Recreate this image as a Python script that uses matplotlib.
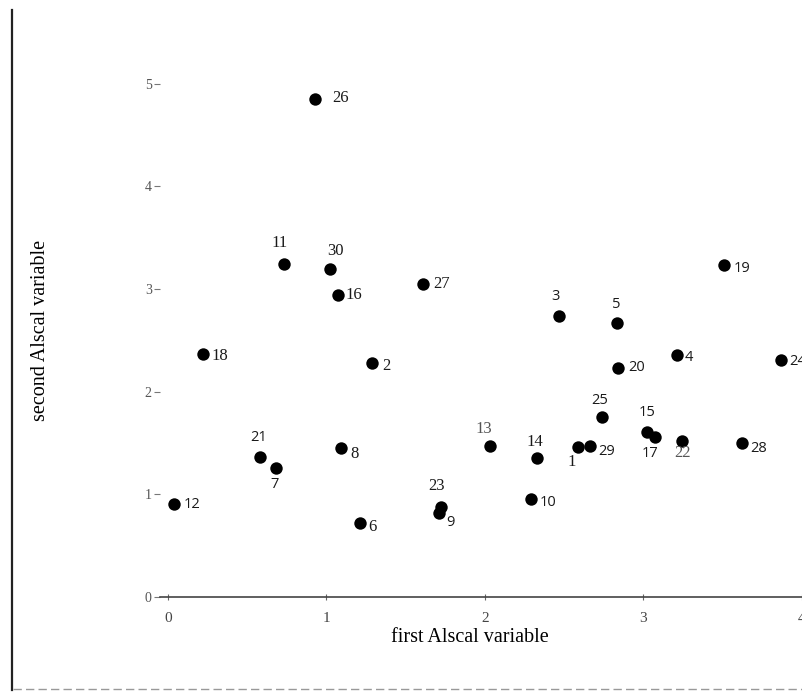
import matplotlib
matplotlib.use("Agg")
from matplotlib import pyplot as plt
from matplotlib.lines import Line2D

# points of the two-dimensional Alscal solution
ids = [1, 2, 3, 4, 5, 6, 7, 8, 9, 10,
       11, 12, 13, 14, 15, 16, 17, 18, 19, 20,
       21, 22, 23, 24, 25, 26, 27, 28, 29, 30]
x_vals = [2.59, 1.29, 2.47, 3.21, 2.83, 1.21, 0.68, 1.09, 1.71, 2.29,
          0.73, 0.04, 2.03, 2.33, 3.02, 1.07, 3.07, 0.22, 3.51, 2.84,
          0.58, 3.24, 1.72, 3.87, 2.74, 0.93, 1.61, 3.62, 2.66, 1.02]
y_vals = [1.46, 2.28, 2.74, 2.36, 2.67, 0.72, 1.26, 1.45, 0.82, 0.95,
          3.24, 0.91, 1.47, 1.35, 1.61, 2.94, 1.56, 2.37, 3.23, 2.23,
          1.36, 1.52, 0.88, 2.31, 1.75, 4.85, 3.05, 1.50, 1.47, 3.19]
x_ticks = [0, 1, 2, 3, 4]
y_ticks = [0, 1, 2, 3, 4, 5]

# where each number sits relative to its dot (offset in points, alignment)
place = {1: (-5, -11, "center"), 2: (7, -2, "left"), 3: (-3, 14, "center"),
         4: (6, -2, "left"), 5: (0, 13, "center"), 6: (6, -3, "left"),
         7: (-1, -12, "center"), 8: (7, -4, "left"), 9: (5, -7, "left"),
         10: (6, -2, "left"), 11: (-3, 15, "center"), 12: (7, -1, "left"),
         13: (-4, 12, "center"), 14: (-2, 12, "center"), 15: (0, 14, "center"),
         16: (6, 0, "left"), 17: (-3, -12, "center"), 18: (6, -2, "left"),
         19: (7, -2, "left"), 20: (7, 0, "left"), 21: (-1, 14, "center"),
         22: (1, -9, "center"), 23: (-3, 15, "center"), 24: (6, -1, "left"),
         25: (-2, 12, "center"), 26: (12, 1, "left"), 27: (7, 0, "left"),
         28: (6, -4, "left"), 29: (6, -4, "left"), 30: (4, 13, "center")}
# the scanned labels come in two typefaces, some of them printed lighter
sans_ids = {3, 4, 5, 7, 9, 10, 12, 15, 17, 19, 20, 21, 24, 25, 28, 29}
light_ids = {13, 22}

plt.rcParams["font.family"] = ["Liberation Serif", "DejaVu Serif"]

fig = plt.figure(figsize=(8.02, 6.92), dpi=100)
ax = fig.add_axes([0.1995, 0.1373, 0.8005, 0.7717])

ax.scatter(x_vals, y_vals, s=80, color="black", zorder=3, linewidths=0)
for i, x, y in zip(ids, x_vals, y_vals):
    dx, dy, ha = place[i]
    if i in sans_ids:
        fam, size = ["Open Sans", "DejaVu Sans"], 10.5
    else:
        fam, size = ["Liberation Serif", "DejaVu Serif"], 12
    col = "#555555" if i in light_ids else "#1a1a1a"
    ax.annotate(str(i), (x, y), xytext=(dx, dy), textcoords="offset points",
                ha=ha, va="center", fontsize=size, family=fam, color=col,
                annotation_clip=False)

ax.set_xlim(-0.05, 4.0)
ax.set_ylim(0, 5.2)
ax.set_xticks(x_ticks)
ax.set_yticks(y_ticks)
for side in ["top", "right", "left"]:
    ax.spines[side].set_visible(False)
ax.spines["bottom"].set_color("#444444")
ax.spines["bottom"].set_linewidth(1.2)
ax.tick_params(axis="x", direction="inout", length=5, width=0.8,
               color="#666666", labelsize=11, labelcolor="#444444", pad=8)
ax.tick_params(axis="y", direction="out", length=4, width=0.8,
               color="#777777", labelsize=10, labelcolor="#555555", pad=2)

fig.text(0.586, 0.079, "first Alscal variable", ha="center", va="center",
         fontsize=14.5)
fig.text(0.05, 0.523, "second Alscal variable", ha="center", va="center",
         rotation=90, fontsize=14.5)

# page border from the scan
fig.add_artist(Line2D([0.0155, 0.0155], [0.003, 0.985], color="#222222",
                      linewidth=1.6))
fig.add_artist(Line2D([0.016, 1.0], [0.004, 0.004], color="#999999",
                      linewidth=1.0, linestyle=(0, (6, 3))))

fig.savefig("out.png", dpi=100)
